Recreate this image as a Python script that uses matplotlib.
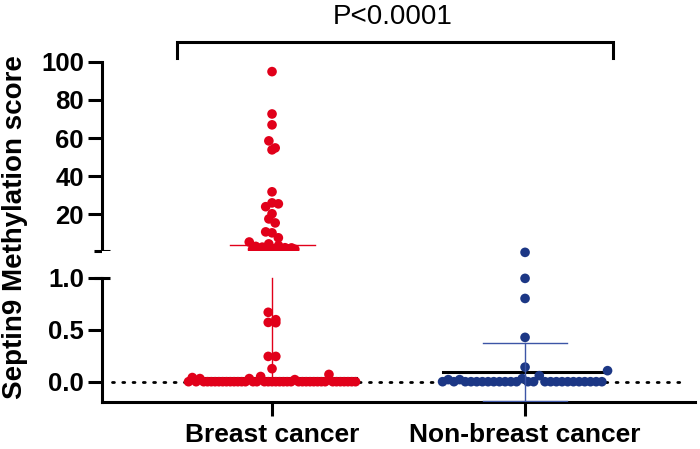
import numpy as np
import matplotlib
matplotlib.use('Agg')
import matplotlib.pyplot as plt

plt.rcParams['font.family'] = ['Liberation Sans', 'DejaVu Sans']

# categories and values
groups = ['Breast cancer', 'Non-breast cancer']

# breast cancer, values shown on the upper (1-100) segment
breast_high = [94.8, 72.6, 66.9, 58.5, 54.8, 53.8, 31.8, 24.0, 26.0, 25.5,
               20.3, 17.6, 15.5, 10.8, 10.3, 7.7,
               5.5, 1.6, 3.2, 2.0, 2.8, 1.4, 4.5, 2.1, 1.8, 3.6, 1.5, 2.5, 1.9, 2.4, 1.7]
# breast cancer, values shown on the lower (0-1) segment
breast_low = [0.667, 0.596, 0.57, 0.567, 0.243, 0.243, 0.125,
              0.0, 0.04, 0.0, 0.03, 0.0, 0.0, 0.0, 0.0, 0.0, 0.0, 0.0, 0.0, 0.0,
              0.0, 0.0, 0.0, 0.03, 0.0, 0.0, 0.05, 0.0, 0.0, 0.0, 0.0, 0.0, 0.0,
              0.0, 0.0, 0.02, 0.0, 0.0, 0.0, 0.0, 0.0, 0.0, 0.0, 0.0, 0.07,
              0.0, 0.0, 0.0, 0.0, 0.0, 0.0, 0.0]
# non-breast cancer
nonbreast = [1.243, 0.993, 0.80, 0.426, 0.14,
             0.0, 0.02, 0.0, 0.02, 0.0, 0.0, 0.0, 0.0, 0.0, 0.0, 0.0, 0.0, 0.0,
             0.0, 0.03, 0.0, 0.0, 0.058, 0.0, 0.0, 0.0, 0.0, 0.0, 0.0, 0.0,
             0.0, 0.0, 0.0, 0.0, 0.106]

# summary lines
breast_mean = 3.8
breast_line = 0.035
nonbreast_mean = 0.093
nonbreast_sd_low = -0.19
nonbreast_sd_high = 0.37

red = '#E1001A'
blue = '#1C3785'
blue_bar = '#3C55A6'


def spread(vals, binw, shift, gap, half):
    # GraphPad-like scatter: points in the same band sit side by side
    vals = np.asarray(vals)
    keys = np.floor((vals + shift) / binw).astype(int)
    off = np.zeros(len(vals))
    for k in np.unique(keys):
        idx = np.where(keys == k)[0]
        n = len(idx)
        if n > 1:
            s = min(gap, 2 * half / (n - 1))
            off[idx] = (np.arange(n) - (n - 1) / 2) * s
    return off


fig = plt.figure(figsize=(7, 4.49), dpi=100)
ax_hi = fig.add_axes([0.1457, 0.4419, 0.8473, 0.4207])
ax_lo = fig.add_axes([0.1457, 0.1047, 0.8473, 0.3372])

xmin, xmax = -0.672, 1.672
lw = 2.2
msize = 48

# ---- upper segment ----
ax_hi.set_xlim(xmin, xmax)
ax_hi.set_ylim(1, 100)
ax_hi.plot([-0.168, 0.168], [breast_mean, breast_mean], color=red, lw=1.0, zorder=2)
ax_hi.plot([0, 0], [1, breast_mean], color=red, lw=1.0, zorder=2)
x_hi = spread(breast_high, 6, 0, 0.025, 0.09)
ax_hi.scatter(0 + x_hi, breast_high, s=msize, color=red, edgecolors='none', zorder=3, clip_on=False)
ax_hi.set_yticks([20, 40, 60, 80, 100])
ax_hi.set_xticks([])
for s in ['top', 'right', 'bottom']:
    ax_hi.spines[s].set_visible(False)
ax_hi.spines['left'].set_linewidth(lw)
ax_hi.tick_params(axis='y', length=10, width=lw, labelsize=18.5, pad=3)
for t in ax_hi.get_yticklabels():
    t.set_fontweight('bold')
ax_hi.plot([-0.7036, -0.640], [1, 1], color='black', lw=lw, clip_on=False, solid_capstyle='butt')

# bracket and p value
ax_hi.plot([-0.375, -0.375, 1.348, 1.348], [101.9, 110.3, 110.3, 101.9], color='black',
           lw=lw, clip_on=False, solid_joinstyle='miter')
ax_hi.text(0.478, 123.5, 'P<0.0001', ha='center', va='center', fontsize=20, clip_on=False)

# ---- lower segment ----
ax_lo.set_xlim(xmin, xmax)
ax_lo.set_ylim(-0.195, 1.26)
ax_lo.plot([-0.632, 1.632], [0, 0], color='black', lw=2.0, linestyle=(0, (0.7, 3.0)),
           dash_capstyle='round', zorder=1)

# breast cancer
ax_lo.plot([0, 0], [breast_line, 1.0], color=red, lw=1.0, zorder=2)
ax_lo.plot([-0.33, 0.33], [breast_line, breast_line], color='black', lw=lw, zorder=2)
x_lo = spread(breast_low, 0.12, 0.01, 0.03, 0.33)
ax_lo.scatter(0 + x_lo, breast_low, s=msize, color=red, edgecolors='none', zorder=3)

# non-breast cancer
x_nb = spread(nonbreast, 0.12, 0.01, 0.03, 0.326)
ax_lo.scatter(1 + x_nb, nonbreast, s=msize, color=blue, edgecolors='none', zorder=3, clip_on=False)
ax_lo.plot([1 - 0.326, 1 + 0.326], [nonbreast_mean, nonbreast_mean], color='black', lw=lw, zorder=2)
ax_lo.plot([1, 1], [nonbreast_sd_low, nonbreast_sd_high], color=blue_bar, lw=1.0, zorder=4)
for yv in [nonbreast_sd_low, nonbreast_sd_high]:
    ax_lo.plot([1 - 0.166, 1 + 0.166], [yv, yv], color=blue_bar, lw=1.0, zorder=4)

ax_lo.set_yticks([0, 0.5, 1.0])
ax_lo.set_yticklabels(['0.0', '0.5', '1.0'])
ax_lo.set_xticks([0, 1])
ax_lo.set_xticklabels(groups)
for s in ['top', 'right']:
    ax_lo.spines[s].set_visible(False)
ax_lo.spines['left'].set_bounds(-0.195, 1.0)
ax_lo.spines['left'].set_linewidth(lw)
ax_lo.spines['bottom'].set_linewidth(lw)
ax_lo.tick_params(axis='y', length=10, width=lw, labelsize=18.5, pad=3)
ax_lo.tick_params(axis='x', length=10, width=lw, labelsize=19, pad=5)
for t in ax_lo.get_yticklabels() + ax_lo.get_xticklabels():
    t.set_fontweight('bold')
ax_lo.plot([-0.7036, -0.640], [1.0, 1.0], color='black', lw=lw, clip_on=False, solid_capstyle='butt')

fig.text(0.022, 0.495, 'Septin9 Methylation score', rotation=90, ha='center', va='center',
         fontsize=20, fontweight='bold')

fig.savefig('out.png', dpi=100)
